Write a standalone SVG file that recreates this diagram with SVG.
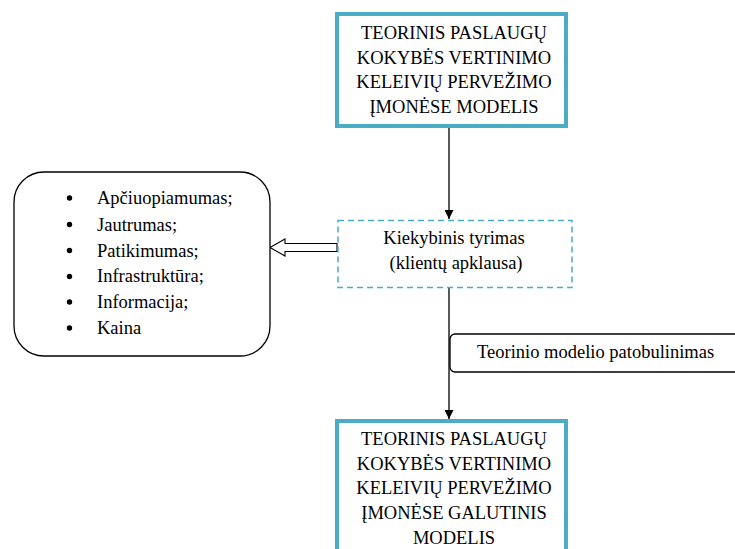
<svg xmlns="http://www.w3.org/2000/svg" width="735" height="549" viewBox="0 0 735 549">
  <defs>
    <marker id="arrow" viewBox="0 0 10 10" refX="10" refY="5" markerWidth="9" markerHeight="9" markerUnits="userSpaceOnUse" orient="auto">
      <path d="M0,0 L10,5 L0,10 Z" fill="#000"/>
    </marker>
  </defs>
  <style>
    .t { font-family: "Liberation Serif", serif; font-size: 18.5px; fill: #000; }
    .mid { text-anchor: middle; }
    .model { fill: #fff; stroke: #4BACC6; stroke-width: 4; }
    .survey { fill: #fff; stroke: #4BACC6; stroke-width: 1.5; stroke-dasharray: 6 4; }
    .plain { fill: #fff; stroke: #000; stroke-width: 1.3; }
    .line { stroke: #000; stroke-width: 1.3; fill: none; }
  </style>
  <rect width="735" height="549" fill="#fff"/>

  <!-- connectors -->
  <g id="connectors">
    <line class="line" x1="449" y1="127" x2="449" y2="219" marker-end="url(#arrow)"/>
    <line class="line" x1="449" y1="288" x2="449" y2="419" marker-end="url(#arrow)"/>
    <path d="M337,243.5 L285,243.5 L285,239 L270,247.5 L285,256 L285,251.5 L337,251.5 Z" fill="#fff" stroke="#000" stroke-width="1.1"/>
  </g>

  <!-- initial model -->
  <g id="model-initial">
    <rect class="model" x="337" y="14" width="229" height="112"/>
    <text class="t mid" x="454" y="39">TEORINIS PASLAUGŲ</text>
    <text class="t mid" x="454" y="63.7">KOKYBĖS VERTINIMO</text>
    <text class="t mid" x="454" y="88.3">KELEIVIŲ PERVEŽIMO</text>
    <text class="t mid" x="454" y="113">ĮMONĖSE MODELIS</text>
  </g>

  <!-- quantitative survey -->
  <g id="survey">
    <rect class="survey" x="338" y="220.5" width="234" height="67"/>
    <text class="t mid" x="454" y="243.5">Kiekybinis tyrimas</text>
    <text class="t mid" x="456" y="268.5">(klientų apklausa)</text>
  </g>

  <!-- quality dimensions -->
  <g id="dimensions">
    <rect class="plain" x="14" y="172" width="256" height="184" rx="30" ry="30"/>
    <g fill="#000">
      <circle cx="69.5" cy="198" r="2.7"/>
      <circle cx="69.5" cy="224.5" r="2.7"/>
      <circle cx="69.5" cy="250.5" r="2.7"/>
      <circle cx="69.5" cy="276.5" r="2.7"/>
      <circle cx="69.5" cy="302" r="2.7"/>
      <circle cx="69.5" cy="328" r="2.7"/>
    </g>
    <text class="t" x="97" y="204">Apčiuopiamumas;</text>
    <text class="t" x="97" y="230.5">Jautrumas;</text>
    <text class="t" x="97" y="256.5">Patikimumas;</text>
    <text class="t" x="97" y="282">Infrastruktūra;</text>
    <text class="t" x="97" y="308">Informacija;</text>
    <text class="t" x="97" y="334">Kaina</text>
  </g>

  <!-- refinement label -->
  <g id="refinement">
    <rect class="plain" x="450" y="334" width="300" height="38" rx="5" ry="5"/>
    <text class="t" x="477" y="358">Teorinio modelio patobulinimas</text>
  </g>

  <!-- final model -->
  <g id="model-final">
    <rect class="model" x="337" y="421" width="229" height="140"/>
    <text class="t mid" x="454" y="445">TEORINIS PASLAUGŲ</text>
    <text class="t mid" x="454" y="469.7">KOKYBĖS VERTINIMO</text>
    <text class="t mid" x="454" y="494.4">KELEIVIŲ PERVEŽIMO</text>
    <text class="t mid" x="454" y="519.1">ĮMONĖSE GALUTINIS</text>
    <text class="t mid" x="454" y="544">MODELIS</text>
  </g>
</svg>
